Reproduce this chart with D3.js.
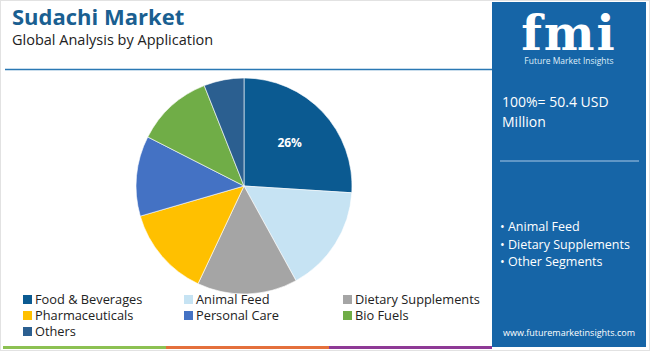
<!DOCTYPE html>
<html>
<head>
<meta charset="utf-8">
<script src="https://cdn.jsdelivr.net/npm/d3@7"></script>
<style>
  body { margin: 0; background: #fff; }
  svg { display: block; font-family: "Open Sans", sans-serif; }
</style>
</head>
<body>
<div id="chart"></div>
<script>
// data
var categories = ["Food & Beverages", "Animal Feed", "Dietary Supplements", "Pharmaceuticals", "Personal Care", "Bio Fuels", "Others"];
var shares = [26, 16, 15, 13.5, 12, 11.5, 6];
var colors = ["#0b5a91", "#c6e3f3", "#a5a5a5", "#ffc000", "#4472c4", "#70ad47", "#2b5f90"];
var shownLabels = ["26%", "", "", "", "", "", ""];
var panelBullets = ["Animal Feed", "Dietary Supplements", "Other Segments"];

var W = 650, H = 351;
var svg = d3.select("#chart").append("svg")
  .attr("width", W)
  .attr("height", H);

// frame
svg.append("rect")
  .attr("x", 0.5).attr("y", 0.5)
  .attr("width", W - 1).attr("height", H - 1)
  .attr("fill", "#fff").attr("stroke", "#e2e2e2");

// titles
svg.append("text")
  .attr("x", 12).attr("y", 25)
  .attr("font-size", 22).attr("font-weight", 700)
  .attr("fill", "#1a5f91")
  .text("Sudachi Market");
svg.append("text")
  .attr("x", 12).attr("y", 45)
  .attr("font-size", 14.5)
  .attr("fill", "#222")
  .text("Global Analysis by Application");

svg.append("line")
  .attr("x1", 5).attr("x2", 492)
  .attr("y1", 69.5).attr("y2", 69.5)
  .attr("stroke", "#2a78b4").attr("stroke-width", 1.5);

// pie
var cx = 244, cy = 186, r = 108;
var pie = d3.pie().sort(null).value(function(d) { return d; });
var arc = d3.arc().innerRadius(0).outerRadius(r);
var labelArc = d3.arc().innerRadius(r * 0.58).outerRadius(r * 0.58);

var g = svg.append("g").attr("transform", "translate(" + cx + "," + cy + ")");
var arcs = pie(shares);
g.selectAll("path")
  .data(arcs)
  .enter()
  .append("path")
    .attr("d", arc)
    .attr("fill", function(d, i) { return colors[i]; })
    .attr("stroke", "#fff")
    .attr("stroke-width", 0.6);

g.selectAll("text.lbl")
  .data(arcs)
  .enter()
  .append("text")
    .attr("class", "lbl")
    .attr("transform", function(d) { return "translate(" + labelArc.centroid(d) + ")"; })
    .attr("text-anchor", "middle")
    .attr("dy", "0.35em")
    .attr("font-size", 12).attr("font-weight", 700)
    .attr("fill", "#fff")
    .text(function(d, i) { return shownLabels[i]; });

// legend
var colX = [22, 183, 342];
var legend = svg.append("g");
categories.forEach(function(c, i) {
  var col = i % 3, row = Math.floor(i / 3);
  var lx = colX[col], ly = 300 + row * 16;
  legend.append("rect")
    .attr("x", lx + 1).attr("y", ly - 5)
    .attr("width", 9).attr("height", 9)
    .attr("fill", colors[i]);
  legend.append("text")
    .attr("x", lx + 13).attr("y", ly)
    .attr("dy", "0.35em")
    .attr("font-size", 12.8)
    .attr("fill", "#222")
    .text(c);
});

// bottom stripes
var stripes = ["#8cc152", "#e4703c", "#8e3a96"];
stripes.forEach(function(c, i) {
  svg.append("rect")
    .attr("x", 3 + i * 163).attr("y", 346)
    .attr("width", 163).attr("height", 3)
    .attr("fill", c);
});

// right panel
var px = 492, pw = 154;
svg.append("rect")
  .attr("x", px).attr("y", 2)
  .attr("width", pw).attr("height", 345)
  .attr("fill", "#1665a7");

// logo
svg.append("text")
  .attr("x", px + pw / 2).attr("y", 50)
  .attr("text-anchor", "middle")
  .attr("font-family", "DejaVu Serif, serif")
  .attr("font-size", 48).attr("font-weight", 700)
  .attr("letter-spacing", 2)
  .attr("fill", "#fff")
  .text("fmi");
svg.append("text")
  .attr("x", px + pw / 2).attr("y", 64)
  .attr("text-anchor", "middle")
  .attr("font-size", 8.5)
  .attr("fill", "#dfeefa")
  .text("Future Market Insights");

svg.append("text")
  .attr("x", 502).attr("y", 107)
  .attr("font-size", 14)
  .attr("fill", "#fff")
  .text("100%= 50.4 USD");
svg.append("text")
  .attr("x", 502).attr("y", 127)
  .attr("font-size", 14)
  .attr("fill", "#fff")
  .text("Million");

svg.append("line")
  .attr("x1", 500).attr("x2", 639)
  .attr("y1", 161).attr("y2", 161)
  .attr("stroke", "#a9c9e6").attr("stroke-width", 1);

panelBullets.forEach(function(b, i) {
  svg.append("text")
    .attr("x", 500).attr("y", 231 + i * 17.5)
    .attr("font-size", 12.5)
    .attr("fill", "#fff")
    .text("\u2022 " + b);
});

svg.append("text")
  .attr("x", px + pw / 2).attr("y", 336)
  .attr("text-anchor", "middle")
  .attr("font-size", 9)
  .attr("fill", "#fff")
  .text("www.futuremarketinsights.com");
</script>
</body>
</html>
